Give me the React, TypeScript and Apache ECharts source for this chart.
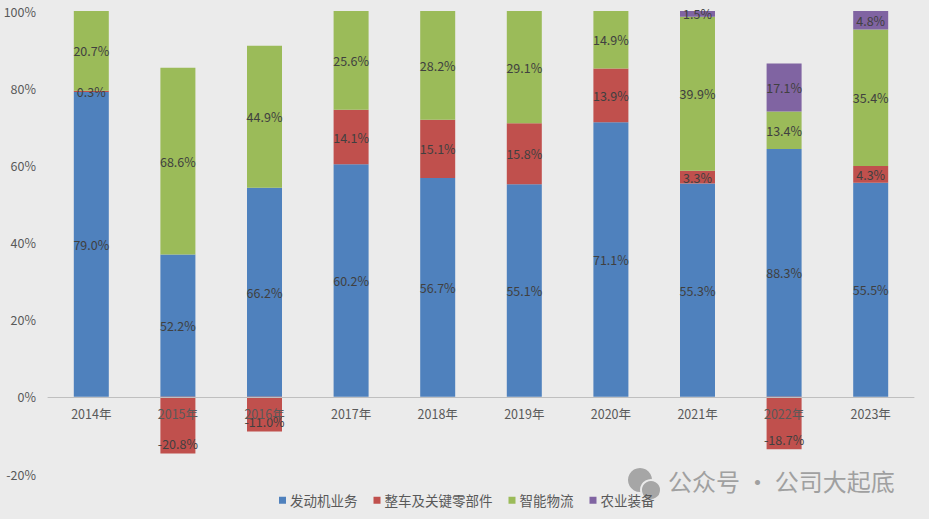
import React, { useEffect, useRef } from "react";
import * as echarts from "echarts";

const years = ["2014年", "2015年", "2016年", "2017年", "2018年", "2019年", "2020年", "2021年", "2022年", "2023年"];
const engine = [79.0, 52.2, 66.2, 60.2, 56.7, 55.1, 71.1, 55.3, 88.3, 55.5];
const vehicle = [0.3, -20.8, -11.0, 14.1, 15.1, 15.8, 13.9, 3.3, -18.7, 4.3];
const logistics = [20.7, 68.6, 44.9, 25.6, 28.2, 29.1, 14.9, 39.9, 13.4, 35.4];
const agri: (number | null)[] = [null, null, null, null, null, null, null, 1.5, 17.1, 4.8];
const seriesNames = ["发动机业务", "整车及关键零部件", "智能物流", "农业装备"];
const colors = ["#4F81BD", "#C0504D", "#9BBB59", "#8064A2"];
const yTicks = { min: -20, max: 100, interval: 20 };

const FONT = "'Noto Sans CJK SC', 'Noto Sans', sans-serif";

export default function App() {
  const ref = useRef<HTMLDivElement>(null);
  useEffect(() => {
    if (!ref.current) return;
    const chart = echarts.init(ref.current, null, { renderer: "svg" });
    const all = [engine, vehicle, logistics, agri];
    const totals = years.map((_, i) =>
      all.reduce((s, arr) => s + Math.abs((arr[i] as number) || 0), 0)
    );
    const gridTop = 11;
    const gridBottom = 45;
    const plotH = 519 - gridTop - gridBottom;
    const zeroOffset = -(plotH * (0 - yTicks.min)) / (yTicks.max - yTicks.min);
    const series = all.map((arr, si) => ({
      name: seriesNames[si],
      type: "bar",
      stack: "total",
      barWidth: 35,
      z: 2,
      itemStyle: { color: colors[si] },
      data: arr.map((v, i) => {
        if (v == null) return "-";
        const val = (v / totals[i]) * 100;
        return {
          value: val,
          label: {
            show: true,
            position: v < 0 ? "insideBottom" : "inside",
            distance: 4,
            formatter: () => v.toFixed(1) + "%",
            color: "#404040",
            fontSize: 12.5,
            fontFamily: FONT,
          },
        };
      }),
    }));
    chart.setOption({
      animation: false,
      backgroundColor: "#ebebeb",
      textStyle: { fontFamily: FONT },
      grid: { left: 48, right: 15, top: gridTop, bottom: gridBottom, containLabel: false },
      xAxis: {
        type: "category",
        data: years,
        offset: zeroOffset,
        axisLine: { onZero: false, lineStyle: { color: "#BFBFBF", width: 1 } },
        axisTick: { show: false },
        axisLabel: { color: "#595959", fontSize: 12.5, margin: 10, fontFamily: FONT },
        z: 5,
      },
      yAxis: {
        type: "value",
        min: yTicks.min,
        max: yTicks.max,
        interval: yTicks.interval,
        splitLine: { show: false },
        axisLine: { show: false },
        axisTick: { show: false },
        axisLabel: { color: "#595959", fontSize: 12.5, margin: 12, formatter: "{value}%", fontFamily: FONT },
      },
      legend: {
        bottom: 7,
        left: 274,
        itemWidth: 7,
        itemHeight: 7,
        itemGap: 16,
        icon: "rect",
        textStyle: { color: "#595959", fontSize: 13.5, fontFamily: FONT, padding: [0, 0, 0, -1] },
        data: seriesNames,
      },
      graphic: [
        { type: "circle", shape: { cx: 640, cy: 480, r: 12 }, style: { fill: "#a6a6a6" } },
        { type: "circle", shape: { cx: 651, cy: 490, r: 10 }, style: { fill: "#a6a6a6", stroke: "#ebebeb", lineWidth: 2 } },
        {
          type: "text",
          left: 668,
          top: 468,
          style: { text: "公众号 · 公司大起底", fill: "#a0a0a0", fontSize: 24, fontFamily: FONT },
        },
      ],
      series,
    });
    return () => chart.dispose();
  }, []);
  return (
    <div
      ref={ref}
      style={{ position: "fixed", left: 0, top: 0, width: 929, height: 519 }}
    />
  );
}
